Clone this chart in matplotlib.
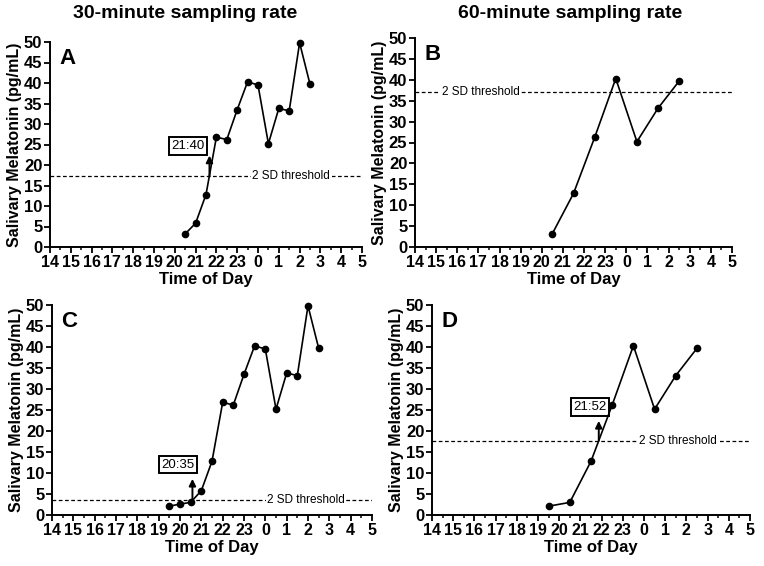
import matplotlib
matplotlib.use('Agg')
import matplotlib.pyplot as plt

plt.rcParams['font.family'] = ['Liberation Sans', 'DejaVu Sans']

# hours after midnight of day 1 (24 = 0:00 next day)
x30 = [20.5, 21, 21.5, 22, 22.5, 23, 23.5, 24, 24.5, 25, 25.5, 26, 26.5]
y30 = [3.2, 5.8, 12.8, 26.8, 26.2, 33.5, 40.3, 39.5, 25.2, 33.8, 33.2, 49.8, 39.7]
x60 = [20.5, 21.5, 22.5, 23.5, 24.5, 25.5, 26.5]
y60 = [3.2, 12.8, 26.2, 40.3, 25.2, 33.2, 39.7]
x30c = [19.5, 20, 20.5, 21, 21.5, 22, 22.5, 23, 23.5, 24, 24.5, 25, 25.5, 26, 26.5]
y30c = [2.1, 2.6, 3.0, 5.8, 12.8, 26.8, 26.2, 33.5, 40.3, 39.5, 25.2, 33.8, 33.2, 49.8, 39.7]
x60d = [19.5, 20.5, 21.5, 22.5, 23.5, 24.5, 25.5, 26.5]
y60d = [2.1, 3.0, 12.8, 26.2, 40.3, 25.2, 33.2, 39.7]

thresholds = [17.2, 37.2, 3.6, 17.7]
onsets = [21 + 40/60, None, 20 + 35/60, 21 + 52/60]
onset_labels = ['21:40', None, '20:35', '21:52']
letters = ['A', 'B', 'C', 'D']

xticks = list(range(14, 30))
xticklabels = [str(h % 24) for h in xticks]

W, H = 764, 566
# axes boxes in pixels: left, right, top, bottom
boxes = [(50, 362, 42, 247), (415, 732, 38, 247),
         (52, 372, 305, 515), (432, 750, 305, 515)]
# threshold text x position and arrow box position
thr_text_x = [25.6, 17.1, 25.9, 25.6]
box_pos = [(20.63, 24.6), None, (19.9, 12.0), (21.45, 25.7)]
arrow_top = [22.3, None, 8.6, 22.4]

fig = plt.figure(figsize=(W / 100, H / 100), dpi=100)

data = [(x30, y30), (x60, y60), (x30c, y30c), (x60d, y60d)]
for i, (xs, ys) in enumerate(data):
    l, r, t, b = boxes[i]
    ax = fig.add_axes([l / W, 1 - b / H, (r - l) / W, (b - t) / H])
    ax.plot(xs, ys, color='black', lw=1.2, marker='o', ms=4.5, clip_on=False, zorder=5)
    ax.set_xlim(14, 29)
    ax.set_ylim(0, 50)
    ax.spines['top'].set_visible(False)
    ax.spines['right'].set_visible(False)
    ax.spines['left'].set_linewidth(1.4)
    ax.spines['bottom'].set_linewidth(1.4)
    ax.set_xticks(xticks)
    ax.set_xticklabels(xticklabels, fontweight='bold', fontsize=11.5)
    ax.set_xticks([h + 0.5 for h in xticks[:-1]], minor=True)
    ax.set_yticks(range(0, 51, 5))
    ax.set_yticklabels([str(v) for v in range(0, 51, 5)], fontweight='bold', fontsize=12)
    ax.tick_params(axis='both', which='major', length=4, width=1.3, pad=1.5)
    ax.tick_params(axis='x', which='minor', length=2.5, width=1.1)
    ax.set_xlabel('Time of Day', fontweight='bold', fontsize=12, labelpad=2)
    ax.set_ylabel('Salivary Melatonin (pg/mL)', fontweight='bold', fontsize=11.5, labelpad=1)
    ax.text(0.03, 0.97, letters[i], transform=ax.transAxes, fontsize=16,
            fontweight='bold', va='top', ha='left')

    thr = thresholds[i]
    ax.axhline(thr, color='black', lw=0.9, ls=(0, (3, 2)))
    ax.text(thr_text_x[i], thr, '2 SD threshold', fontsize=8.5, ha='center', va='center',
            bbox=dict(facecolor='white', edgecolor='none', pad=1))

    if onsets[i] is not None:
        ax.annotate('', xy=(onsets[i], arrow_top[i]), xytext=(onsets[i], thr),
                    arrowprops=dict(arrowstyle='-|>', color='black', lw=1.4,
                                    mutation_scale=10, shrinkA=0, shrinkB=0))
        bx, by = box_pos[i]
        ax.text(bx, by, onset_labels[i], fontsize=9.5, ha='center', va='center',
                bbox=dict(facecolor='white', edgecolor='black', lw=1.4, pad=2))

fig.text(185 / W, 1 - 14 / H, '30-minute sampling rate', fontsize=14, fontweight='bold',
         ha='center', va='center')
fig.text(570 / W, 1 - 14 / H, '60-minute sampling rate', fontsize=14, fontweight='bold',
         ha='center', va='center')

fig.savefig('out.png', dpi=100)
